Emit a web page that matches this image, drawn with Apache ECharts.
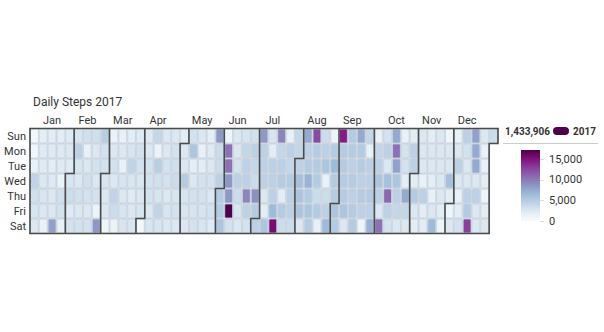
<!DOCTYPE html>
<html><head><meta charset="utf-8">
<script src="https://cdn.jsdelivr.net/npm/echarts@6/dist/echarts.min.js"></script>
<style>html,body{margin:0;padding:0;background:#fff}#c{width:604px;height:332px}</style>
</head><body><div id="c"></div>
<script>
const year = 2017;
const titleText = 'Daily Steps 2017';
const monthNames = ['Jan','Feb','Mar','Apr','May','Jun','Jul','Aug','Sep','Oct','Nov','Dec'];
const dayNames = ['Sun','Mon','Tue','Wed','Thu','Fri','Sat'];
const legendTotal = '1,433,906';
const legendName = '2017';
const colorbarTicks = [0, 5000, 10000, 15000];

const jan = [600,700,1500,4200,3200,2800,2500, 1800,2200,2200,2500,2800,2500,1500, 2000,2200,2000,2300,2500,2500,8000, 2000,2300,2200,1200,3200,3000,1500, 2200,2500,2200];
const feb = [2800,3500,2200,3000, 2800,4500,2800,2500,3200,2500,3000, 3200,1500,2500,3200,3000,2500,3000, 3300,2500,3000,2500,3000,1200,8500, 4800,3000,3000];
const mar = [2800,2500,2500,800, 1200,2500,3000,2500,4200,3500,1200, 1500,2500,1500,2800,2500,2800,2800, 2000,2800,4200,2800,2200,2500,2800, 2200,3000,3000,2600,2500,2800];
const apr = [600, 2300,2500,3000,3000,3000,2500,2800, 4000,1200,4800,3200,2800,4200,2800, 2500,2500,3000,3000,2500,2800,2500, 2500,3000,3200,3500,2800,3000,2500, 2000];
const may = [2500,2500,5000,2800,2800,2500, 3000,5500,1800,2500,3000,2800,3000, 2500,1500,2000,3000,3000,2800,2800, 1800,2200,2500,3000,2500,3000,2200, 8500,3500,3500,4500];
const jun = [5000,5000,5500, 1000,10500,10500,8500,8500,17250,3000, 2500,2500,3000,4500,3500,2800,2500, 2800,4000,4500,4500,9500,4500,3000, 3200,4500,4000,3500,9000,5000];
const jul = [4500, 8500,4500,4500,4500,2500,2000,5500, 2800,2000,4500,4500,4500,6500,15500, 9500,4000,4500,5000,2000,5000,3500, 1500,4500,4000,5000,4500,4500,3500, 4000,4000];
const aug = [4500,6000,5500,5500,2500, 7500,4500,5000,7000,5000,5500,5000, 12500,5000,5000,5000,3500,5000,1500, 3500,4500,5500,1500,3500,4500,6500, 1000,5000,6500,5000,5000];
const sep = [5500,5000, 14500,5000,5000,5000,5000,5500,2500, 5000,5000,4500,5000,4500,5000,5000, 7500,5000,5000,4500,5000,4500,1000, 4000,1500,4500,4500,5000,4500,7000];
const oct = [1500,4000,4500,5500,4500,2500,10500, 3000,4500,2500,6000,11000,4500,3000, 7500,10500,8000,5500,4500,4000,2500, 1500,3000,3000,2000,7500,4000,2500, 2000,4500,4500];
const nov = [2000,5000,2500,2000, 2500,2500,2500,1500,4500,2000,2000, 2000,2500,2500,2000,1500,2500,6500, 2500,2500,2500,2500,2500,2000,1000, 800,2500,2500,6000,2000];
const dec = [1000,2500, 1500,2500,4500,2500,1500,2000,3000, 4500,3000,2500,2500,4500,5000,13000, 8000,7500,7500,2500,4500,2500,2500, 2500,1500,1500,2000,1000,2000,2500, 3500];

const palette = ['#f7fcfd','#e0ecf4','#bfd3e6','#9ebcda','#8c96c6','#8c6bb1','#88419d','#810f7c','#4d004b'];
const FONT = 'Roboto, "Liberation Sans", sans-serif';

const monthsData = [jan,feb,mar,apr,may,jun,jul,aug,sep,oct,nov,dec];
const pad = n => (n < 10 ? '0' : '') + n;
const data = [];
monthsData.forEach((arr, m) => arr.forEach((v, d) => data.push([year + '-' + pad(m + 1) + '-' + pad(d + 1), v])));
const vmax = Math.max.apply(null, data.map(d => d[1]));

const chart = echarts.init(document.getElementById('c'), null, {renderer: 'svg'});
const option = {
  animation: false,
  textStyle: {fontFamily: FONT},
  title: {text: titleText, left: 33, top: 96, padding: 0,
    textStyle: {fontSize: 12, fontWeight: 'normal', color: '#333', fontFamily: FONT}},
  calendar: {
    left: 30, top: 128.5, cellSize: [8.83, 15], range: String(year), orient: 'horizontal',
    splitLine: {show: true, lineStyle: {color: '#4a4a4a', width: 1.6}},
    itemStyle: {color: '#fff', borderColor: '#d6dce4', borderWidth: 1},
    dayLabel: {firstDay: 0, nameMap: dayNames, position: 'start', margin: 4, fontSize: 11, color: '#333', fontFamily: FONT},
    monthLabel: {show: false},
    yearLabel: {show: false}
  },
  visualMap: {show: false, type: 'continuous', min: 0, max: vmax, seriesIndex: 0, inRange: {color: palette}},
  grid: {left: 521, top: 150, width: 19, height: 71},
  xAxis: {type: 'category', data: [''], show: false},
  yAxis: {type: 'value', min: 0, max: vmax, position: 'right',
    axisLine: {show: false}, splitLine: {show: false},
    axisTick: {show: true, length: 4, lineStyle: {color: '#ddd'}, customValues: colorbarTicks},
    axisLabel: {customValues: colorbarTicks, margin: 9, fontSize: 11, color: '#333', fontFamily: FONT,
      formatter: v => v.toLocaleString('en-US')}},
  series: [
    {type: 'heatmap', coordinateSystem: 'calendar', data: data,
      itemStyle: {borderColor: '#c9d1dc', borderWidth: 0.8, borderRadius: 1}},
    {type: 'bar', xAxisIndex: 0, yAxisIndex: 0, data: [vmax], barWidth: '100%', silent: true,
      itemStyle: {color: new echarts.graphic.LinearGradient(0, 0, 0, 1,
        palette.slice().reverse().map((c, i) => ({offset: i / (palette.length - 1), color: c})))}}
  ]
};
chart.setOption(option);

// month labels centred on each month (mid-month cell)
const jan1 = chart.convertToPixel({calendarIndex: 0}, year + '-01-01');
const calTop = jan1[1] - 7.5;
const graphics = monthNames.map((name, i) => {
  const p = chart.convertToPixel({calendarIndex: 0}, year + '-' + pad(i + 1) + '-15');
  return {type: 'text', x: p[0], y: calTop - 8.5,
    style: {text: name, fontSize: 11, fill: '#333', fontFamily: FONT, align: 'center', verticalAlign: 'middle'}};
});
graphics.push(
  {type: 'text', x: 505, y: 131, style: {text: legendTotal, fontSize: 10, fontWeight: 'bold', fill: '#333', fontFamily: FONT, verticalAlign: 'middle'}},
  {type: 'rect', shape: {x: 553, y: 127, width: 16, height: 8, r: 4}, style: {fill: palette[palette.length - 1]}},
  {type: 'text', x: 573, y: 131, style: {text: legendName, fontSize: 10, fontWeight: 'bold', fill: '#333', fontFamily: FONT, verticalAlign: 'middle'}},
  {type: 'line', shape: {x1: 503, y1: 143.5, x2: 598, y2: 143.5}, style: {stroke: '#ccc', lineWidth: 1}}
);
chart.setOption({graphic: graphics});
</script>
</body></html>
